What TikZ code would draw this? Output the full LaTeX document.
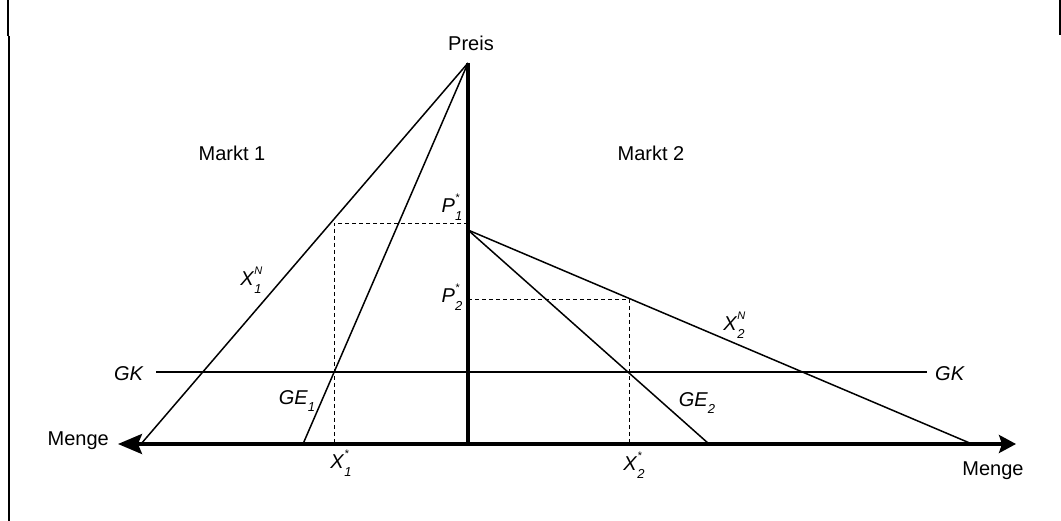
\documentclass[tikz,border=0pt]{standalone}
\usepackage{fontspec}
\setmainfont{Liberation Sans}
\usetikzlibrary{arrows.meta}
\newcommand{\mylab}[3]{\textit{#1}\makebox[0pt][l]{\raisebox{0.55em}{\fontsize{11}{12}\selectfont\itshape #2}}\raisebox{-0.38em}{\fontsize{13}{14}\selectfont\itshape #3}}
\begin{document}
\begin{tikzpicture}[x=1pt,y=-1pt,
  txt/.style={font=\fontsize{20}{23}\selectfont, inner sep=0pt},
  curve/.style={line width=1.5pt},
  axis/.style={line width=3.2pt},
  guide/.style={line width=0.9pt, dash pattern=on 4pt off 3pt},
  frame/.style={line width=2pt}]
\useasboundingbox (0,0) rectangle (1061,521);
% page frame fragments
\draw[frame] (8,0) -- (8,36);
\draw[frame] (9,36) -- (9,521);
\draw[frame] (1059.5,0) -- (1059.5,35);
% points
\coordinate (apex) at (468,63);
\coordinate (orig) at (468,444);
\coordinate (ltip) at (118,444);
\coordinate (rtip) at (1016,444);
\coordinate (x1n) at (141,444);
\coordinate (ge1) at (303,444);
\coordinate (p1) at (468,230);
\coordinate (ge2) at (709,444);
\coordinate (x2n) at (972,444);
\coordinate (gkl) at (156,372);
\coordinate (gkr) at (927,372);
\coordinate (p1s) at (468,223);
\coordinate (p1c) at (334,223);
\coordinate (x1b) at (334,444);
\coordinate (p2s) at (468,299);
\coordinate (p2c) at (629,299);
\coordinate (x2b) at (629,444);
% dashed guides
\draw[guide] (p1s) -- (p1c) -- (x1b);
\draw[guide] (p2s) -- (p2c) -- (x2b);
% curves
\draw[curve] (apex) -- (x1n);
\draw[curve] (apex) -- (ge1);
\draw[curve] (p1) -- (x2n);
\draw[curve] (p1) -- (ge2);
\draw[curve] (gkl) -- (gkr);
% axes
\draw[axis] (apex) -- (orig);
\draw[axis, arrows={Stealth[length=24pt,width=20pt,inset=4pt]-Stealth[length=17pt,width=18pt,inset=3pt]}] (ltip) -- (rtip);
% labels
\node[txt] (preis) at (471,43) {Preis};
\node[txt] (m1) at (232,153) {Markt 1};
\node[txt] (m2) at (651,153) {Markt 2};
\node[txt, anchor=east] (mengel) at (109,441) {Menge};
\node[txt] (menger) at (993,471) {Menge};
\node[txt] (gk1) at (129,374) {\textit{GK}};
\node[txt] (gk2) at (950,374) {\textit{GK}};
\node[txt] (lp1) at (452,207) {\mylab{P}{*}{1}};
\node[txt] (lp2) at (452,297) {\mylab{P}{*}{2}};
\node[txt] (lx1) at (341,463) {\mylab{X}{*}{1}};
\node[txt] (lx2) at (634,465) {\mylab{X}{*}{2}};
\node[txt] (lx1n) at (251,280) {\mylab{X}{N}{1}};
\node[txt] (lx2n) at (734,325) {\mylab{X}{N}{2}};
\node[txt] (lge1) at (297,401) {\textit{GE}\raisebox{-0.38em}{\fontsize{13}{14}\selectfont\itshape 1}};
\node[txt] (lge2) at (697,403) {\textit{GE}\raisebox{-0.38em}{\fontsize{13}{14}\selectfont\itshape 2}};
\end{tikzpicture}
\end{document}
